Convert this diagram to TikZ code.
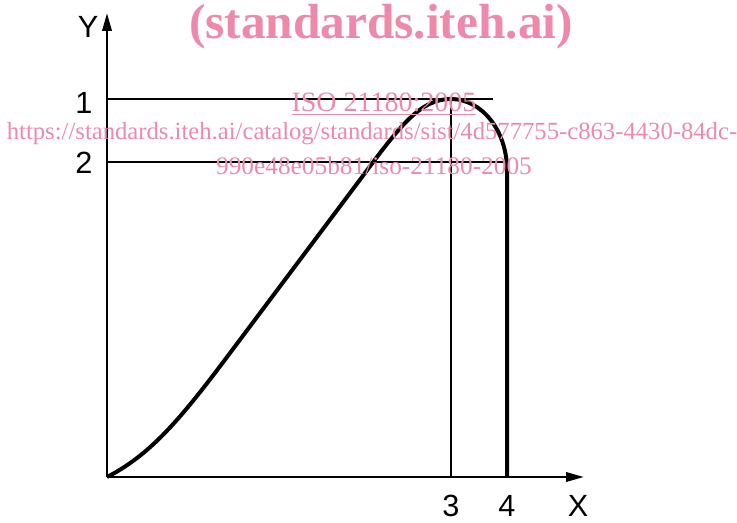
\documentclass[tikz,border=0pt]{standalone}
\usepackage{fontspec}
\setmainfont{Liberation Serif}
\newfontfamily\labfont{Liberation Sans}
\usetikzlibrary{arrows.meta}
\definecolor{wmpink}{RGB}{238,137,170}
\tikzset{
  axis/.style={line width=1.9pt,-{Triangle[length=13.5pt,width=7pt]}},
  guide/.style={line width=0.8pt},
  curve/.style={line width=3pt,line join=round},
  lab/.style={font=\labfont\fontsize{23}{23}\selectfont,inner sep=0pt},
  wm/.style={text=wmpink,inner sep=0pt},
}
\begin{document}
\begin{tikzpicture}[x=0.75pt,y=-0.75pt]
\path[use as bounding box] (0,0) rectangle (737,523);
\coordinate (O) at (107,477);
\coordinate (Ytip) at (107,13);
\coordinate (Xtip) at (584,477);
\coordinate (h1a) at (107,99);
\coordinate (h1b) at (493,99);
\coordinate (h2a) at (107,162);
\coordinate (h2b) at (507,162);
\coordinate (v3a) at (451,99);
\coordinate (v3b) at (451,477);
\coordinate (top) at (451,99);
\coordinate (v4) at (507,170);
\coordinate (v4b) at (507,477);
% guides
\draw[guide] (h1a) -- (h1b);
\draw[guide] (h2a) -- (h2b);
\draw[guide] (v3a) -- (v3b);
% axes
\draw[axis] (O) -- (Ytip);
\draw[axis] (O) -- (Xtip);
% curve
\draw[curve] (O) .. controls (150,455) and (180,420) .. (230,353)
  -- (362,177) .. controls (400,126) and (420,99) .. (top)
  .. controls (482,99) and (507,131) .. (v4) -- (v4b);
% labels
\node[lab] (lY) at (88,27) {Y};
\node[lab] (l1) at (84,103) {1};
\node[lab] (l2) at (84,163) {2};
\node[lab] (l3) at (451,506) {3};
\node[lab] (l4) at (507,506) {4};
\node[lab] (lX) at (578,506) {X};
% watermark
\node[wm,font=\bfseries\fontsize{37}{37}\selectfont] (w1) at (381,27) {(standards.iteh.ai)};
\node[wm,font=\fontsize{21}{21}\selectfont] (w2) at (384,104) {\underline{ISO 21180:2005}};
\node[wm,font=\fontsize{18.5}{18.5}\selectfont] (w3) at (372,134) {https://standards.iteh.ai/catalog/standards/sist/4d577755-c863-4430-84dc-};
\node[wm,font=\fontsize{19}{19}\selectfont] (w4) at (374,166) {990e48e05b81/iso-21180-2005};
\end{tikzpicture}
\end{document}
